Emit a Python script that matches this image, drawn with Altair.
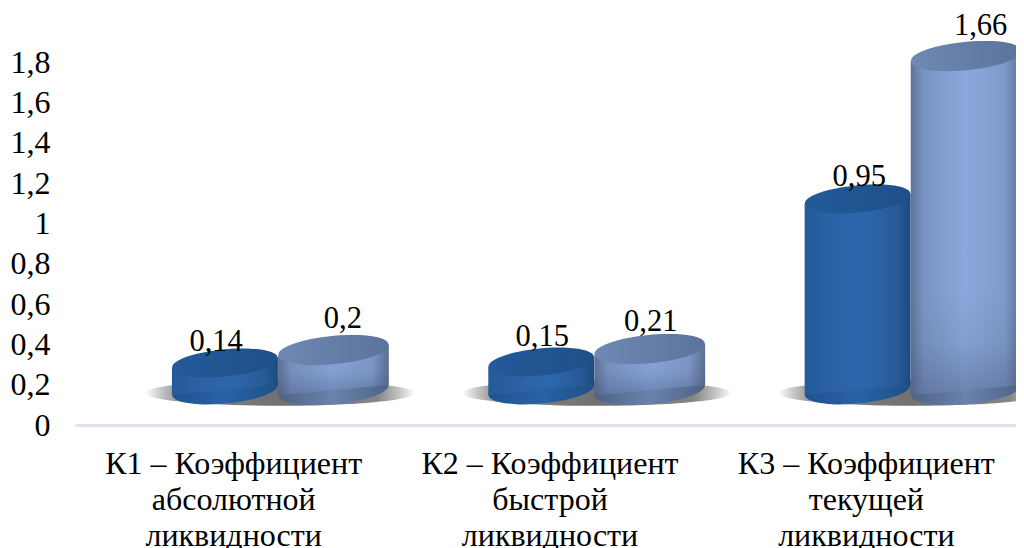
import altair as alt
import pandas as pd

categories = ["К1", "К2", "К3"]
label_lines = [
    ["К1 – Коэффициент", "абсолютной", "ликвидности"],
    ["К2 – Коэффициент", "быстрой", "ликвидности"],
    ["К3 – Коэффициент", "текущей", "ликвидности"],
]
series_a_labels = ["0,14", "0,15", "0,95"]
series_b_labels = ["0,2", "0,21", "1,66"]
# drawn heights of the cylinders' top caps, read against the value axis
series_a_top = [0.308, 0.313, 1.122]
series_b_top = [0.372, 0.377, 1.831]
base_level = 0.174
slots = [0, 1, 2]
series_a_centre = 0.474
series_b_centre = 0.817
series_a_half = 0.1675
series_b_half = 0.175
series_a_label_x = [0.446, 1.477, 2.479]
series_b_label_x = [0.847, 1.820, 2.863]
series_a_label_y = [0.367, 0.392, 1.186]
series_b_label_y = [0.481, 0.467, 1.935]
y_ticks = [0, 0.2, 0.4, 0.6, 0.8, 1, 1.2, 1.4, 1.6, 1.8]

PX_Y = 201.5
PX_X = 949 / 3
PLOT_W = 941
TILT = 0.096
ELLIPSE = "M -0.995 0.096 A 1 0.25 -5.5 1 1 0.995 -0.096 A 1 0.25 -5.5 1 1 -0.995 0.096 Z"
SHADOW = "M -1 0 A 1 0.095 0 1 1 1 0 A 1 0.095 0 1 1 -1 0 Z"

xs = alt.Scale(domain=[0, PLOT_W / PX_X], nice=False, zero=False)
ys = alt.Scale(domain=[0, 415 / PX_Y], nice=False, zero=False)


def hgrad(stops):
    return alt.LinearGradient(
        gradient="linear", x1=0, x2=1, y1=0, y2=0,
        stops=[alt.GradientStop(offset=o, color=c) for o, c in stops],
    )


def cylinder(centre, half, tops, side, cap, foot, shade=None):
    dy = TILT * half * PX_X / PX_Y
    size = (2 * half * PX_X) ** 2
    X = alt.X("x:Q", scale=xs)
    caps = pd.DataFrame({
        "x": [s + centre for s in slots],
        "top": tops,
        "bot": [base_level] * len(slots),
    })
    layers = [
        alt.Chart(caps).mark_point(shape=ELLIPSE, size=size, filled=True, fill=hgrad(foot), opacity=1, strokeWidth=0)
        .encode(x=X, y=alt.Y("bot:Q", scale=ys))
    ]
    for s, t in zip(slots, tops):
        c = s + centre
        body = pd.DataFrame({
            "x": [c - half, c + half],
            "upper": [t - dy, t + dy],
            "lower": [base_level - dy, base_level + dy],
        })
        layers.append(
            alt.Chart(body).mark_area(fill=hgrad(side), opacity=1)
            .encode(x=X, y=alt.Y("upper:Q", scale=ys), y2=alt.Y2("lower"))
        )
        if shade:
            band_top = min(t, base_level + 0.5)
            band = pd.DataFrame({
                "x": [c - half, c + half],
                "upper": [band_top, band_top],
                "lower": [base_level - dy, base_level + dy],
            })
            layers.append(
                alt.Chart(band).mark_area(fill=shade, opacity=1)
                .encode(x=X, y=alt.Y("upper:Q", scale=ys), y2=alt.Y2("lower"))
            )
    layers.append(
        alt.Chart(caps).mark_point(shape=ELLIPSE, size=size, filled=True, fill=hgrad(cap), opacity=1, strokeWidth=0)
        .encode(x=X, y=alt.Y("top:Q", scale=ys))
    )
    return layers


shadow_df = pd.DataFrame({"x": [s + 0.649 for s in slots], "y": [0.159] * 3})
shadow_fill = alt.RadialGradient(
    gradient="radial", x1=0.5, y1=0.5, x2=0.5, y2=0.5, r1=0, r2=0.5,
    stops=[
        alt.GradientStop(offset=0, color="#707070"),
        alt.GradientStop(offset=0.72, color="#858585"),
        alt.GradientStop(offset=0.88, color="#c4c4c4"),
        alt.GradientStop(offset=1, color="#ffffff"),
    ],
)
shadow = alt.Chart(shadow_df).mark_point(
    shape=SHADOW, size=(270) ** 2, filled=True, fill=shadow_fill, opacity=1, strokeWidth=0
).encode(
    x=alt.X("x:Q", scale=xs, axis=alt.Axis(
        values=[0.5, 1.5, 2.5], title=None, grid=False, ticks=False,
        domainColor="#dfe3ec", domainWidth=3, labelFont="Liberation Serif",
        labelFontSize=32, labelColor="#000000", labelPadding=23, labelLineHeight=36,
        labelLimit=400, labelAngle=0, labelBaseline="top", labelAlign="center",
        labelFlush=False, labelOverlap=False,
        labelExpr="datum.value < 1 ? " + str(label_lines[0]) + " : datum.value < 2 ? "
                  + str(label_lines[1]) + " : " + str(label_lines[2]),
    )),
    y=alt.Y("y:Q", scale=ys, axis=alt.Axis(
        values=y_ticks, title=None, grid=False, ticks=False, domain=False,
        labelFont="Liberation Serif", labelFontSize=32, labelColor="#000000", labelPadding=25,
        labelExpr="replace(toString(datum.value), '.', ',')",
    )),
)

dark_side = [(0, "#235a98"), (0.35, "#2c64a8"), (0.6, "#2d66ab"), (0.88, "#265a96"), (1, "#1c4a7c")]
dark_cap = [(0, "#235a98"), (0.5, "#205592"), (1, "#1f4f88")]
dark_foot = [(0, "#1f5391"), (0.5, "#2a62a6"), (1, "#1f5087")]
light_side = [(0, "#5f7398"), (0.12, "#7a95c4"), (0.5, "#8ba8dc"), (0.85, "#7f9aca"), (1, "#5c6f94")]
light_cap = [(0, "#6f89b4"), (0.5, "#647ea8"), (1, "#5c749c")]
light_foot = [(0, "#4f6284"), (0.5, "#6a83ad"), (1, "#4f6284")]
light_shade = alt.LinearGradient(
    gradient="linear", x1=0, x2=0, y1=0, y2=1,
    stops=[
        alt.GradientStop(offset=0, color="rgba(60,75,110,0)"),
        alt.GradientStop(offset=0.5, color="rgba(60,75,110,0.1)"),
        alt.GradientStop(offset=1, color="rgba(60,75,110,0.4)"),
    ],
)

dark_layers = cylinder(series_a_centre, series_a_half, series_a_top, dark_side, dark_cap, dark_foot)
light_layers = cylinder(series_b_centre, series_b_half, series_b_top, light_side, light_cap, light_foot, light_shade)

labels = pd.DataFrame({
    "x": series_a_label_x + series_b_label_x,
    "y": series_a_label_y + series_b_label_y,
    "t": series_a_labels + series_b_labels,
})
text = alt.Chart(labels).mark_text(
    font="Liberation Serif", fontSize=30.5, color="#000000", baseline="alphabetic", align="center"
).encode(x=alt.X("x:Q", scale=xs), y=alt.Y("y:Q", scale=ys), text="t:N")

chart = alt.layer(shadow, *dark_layers, *light_layers, text).properties(
    width=PLOT_W, height=415,
    padding={"left": 67, "top": 2, "right": 0, "bottom": 123},
    autosize=alt.AutoSizeParams(type="none"),
    background="#ffffff",
).configure_view(stroke=None)

chart.save("out.html", embed_options={"renderer": "svg", "actions": False})
